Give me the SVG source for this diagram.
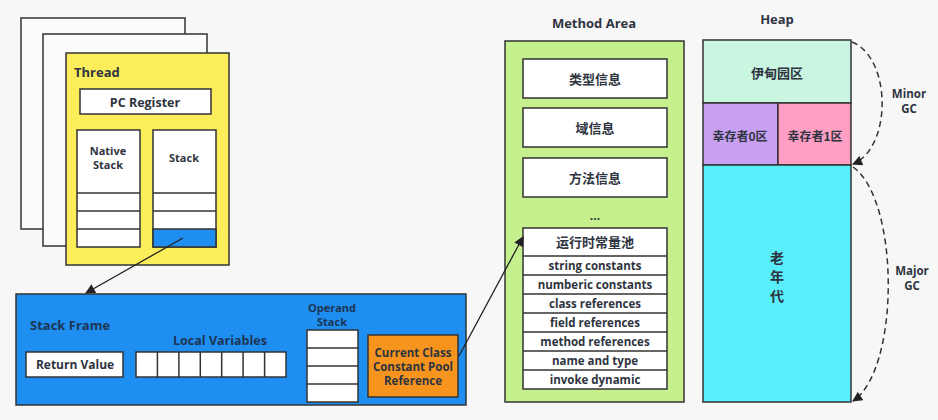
<svg xmlns="http://www.w3.org/2000/svg" width="938" height="420" viewBox="0 0 938 420">
<defs>
<style>
.t{font-family:"Open Sans","Noto Sans","Noto Sans CJK SC",sans-serif;font-weight:bold;fill:#2e3440;text-anchor:middle}
.c{font-family:"Noto Sans CJK SC","Noto Sans",sans-serif;font-weight:bold;fill:#2e3440;text-anchor:middle}
.b{stroke:#333;stroke-width:1.5}
.w{fill:#fff;stroke:#333;stroke-width:1.5}
.ln{stroke:#222;stroke-width:1.3;fill:none}
.d{stroke:#333;stroke-width:1.5;fill:none;stroke-dasharray:6,4}
</style>
<marker id="ah" viewBox="0 0 10 10" refX="9" refY="5" markerWidth="11" markerHeight="10" orient="auto" markerUnits="userSpaceOnUse"><path d="M0,0 L10,5 L0,10 z" fill="#222"/></marker>
</defs>
<rect width="938" height="420" fill="#f7f7f7"/>

<g id="thread">
<rect x="21" y="18" width="164" height="211" class="b" fill="#fbfbfb"/>
<rect x="43" y="34" width="164" height="212" class="b" fill="#fbfbfb"/>
<rect x="66" y="53" width="163" height="212" class="b" fill="#fbee5a"/>
<text x="74" y="77" class="t" style="text-anchor:start" font-size="13">Thread</text>
<g id="pc"><rect x="80" y="89" width="131" height="25" class="w"/><text x="145" y="107" class="t" font-size="12.5">PC Register</text></g>
<g id="native">
<rect x="77" y="130" width="63" height="117" class="w"/>
<line x1="77" y1="193" x2="140" y2="193" class="b"/><line x1="77" y1="211" x2="140" y2="211" class="b"/><line x1="77" y1="229" x2="140" y2="229" class="b"/>
<text x="108" y="155" class="t" font-size="11">Native</text><text x="108" y="169" class="t" font-size="11">Stack</text>
</g>
<g id="stack">
<rect x="153" y="130" width="63" height="117" class="w"/>
<rect x="153" y="229" width="63" height="18" fill="#1f8ef1" class="b"/>
<line x1="153" y1="193" x2="216" y2="193" class="b"/><line x1="153" y1="211" x2="216" y2="211" class="b"/>
<text x="184" y="162" class="t" font-size="11">Stack</text>
</g>
</g>

<g id="stackframe">
<rect x="16" y="294" width="450" height="111" class="b" fill="#1f8ef1"/>
<text x="30" y="330" class="t" style="text-anchor:start;fill:#1c3553" font-size="13">Stack Frame</text>
<g id="retval"><rect x="26" y="352" width="97" height="25" class="w"/><text x="75" y="369" class="t" font-size="12">Return Value</text></g>
<g id="localvars">
<text x="220" y="345" class="t" style="fill:#1c3553" font-size="12.5">Local Variables</text>
<rect x="136" y="352" width="150" height="25" class="w"/>
<path d="M157.4,352v25M178.9,352v25M200.3,352v25M221.7,352v25M243.1,352v25M264.6,352v25" class="b"/>
</g>
<g id="operand">
<text x="332" y="312" class="t" style="fill:#1c3553" font-size="11">Operand</text>
<text x="332" y="326" class="t" style="fill:#1c3553" font-size="11">Stack</text>
<rect x="307" y="330" width="51" height="72" class="w"/>
<path d="M307,348h51M307,366h51M307,384h51" class="b"/>
</g>
<g id="ccpr">
<rect x="368" y="335" width="90" height="62" class="b" fill="#f7941d"/>
<text x="413" y="357" class="t" font-size="11.5">Current Class</text>
<text x="413" y="371" class="t" font-size="11.5">Constant Pool</text>
<text x="413" y="385" class="t" font-size="11.5">Reference</text>
</g>
</g>

<g id="methodarea">
<text x="594" y="28" class="t" font-size="13">Method Area</text>
<rect x="505" y="41" width="179" height="361" class="b" fill="#c6ef8e"/>
<g id="type"><rect x="523" y="59" width="144" height="39" class="w"/><text x="595" y="84" class="c" font-size="13">类型信息</text></g>
<g id="field"><rect x="523" y="108" width="144" height="39" class="w"/><text x="595" y="133" class="c" font-size="13">域信息</text></g>
<g id="method"><rect x="523" y="158" width="144" height="39" class="w"/><text x="595" y="183" class="c" font-size="13">方法信息</text></g>
<text x="595" y="220" class="t" font-size="12">...</text>
<g id="rcp">
<rect x="523" y="228" width="144" height="161" class="w"/>
<path d="M523,256h144M523,275h144M523,294h144M523,313h144M523,332h144M523,351h144M523,370h144" class="b"/>
<text x="595" y="247" class="c" font-size="13">运行时常量池</text>
<text x="595" y="270" class="t" font-size="11.5">string constants</text>
<text x="595" y="289" class="t" font-size="11.5">numberic constants</text>
<text x="595" y="308" class="t" font-size="11.5">class references</text>
<text x="595" y="327" class="t" font-size="11.5">field references</text>
<text x="595" y="346" class="t" font-size="11.5">method references</text>
<text x="595" y="365" class="t" font-size="11.5">name and type</text>
<text x="595" y="384" class="t" font-size="11.5">invoke dynamic</text>
</g>
</g>

<g id="heap">
<text x="777" y="24" class="t" font-size="13">Heap</text>
<g id="eden"><rect x="703" y="40" width="148" height="63" class="b" fill="#c9f5e1"/><text x="777" y="78" class="c" font-size="13">伊甸园区</text></g>
<g id="s0"><rect x="703" y="103" width="75" height="62" class="b" fill="#c7a0f2"/><text x="740" y="141" class="c" font-size="12">幸存者0区</text></g>
<g id="s1"><rect x="778" y="103" width="73" height="62" class="b" fill="#ff9fc4"/><text x="815" y="141" class="c" font-size="12">幸存者1区</text></g>
<g id="old"><rect x="703" y="165" width="148" height="237" class="b" fill="#58effb"/>
<text x="777" y="263" class="c" font-size="14">老</text><text x="777" y="282" class="c" font-size="14">年</text><text x="777" y="301" class="c" font-size="14">代</text></g>
</g>

<g id="connectors">
<line x1="183" y1="238" x2="86" y2="293" class="ln" marker-end="url(#ah)"/>
<line x1="459" y1="356" x2="523" y2="237" class="ln" marker-end="url(#ah)"/>
<path d="M852,42 C892,58 892,148 853,164" class="d" marker-end="url(#ah)"/>
<path d="M853,167 C900,200 900,370 853,401" class="d" marker-end="url(#ah)"/>
<text x="909" y="98" class="t" font-size="11.5">Minor</text>
<text x="909" y="113" class="t" font-size="11.5">GC</text>
<text x="912" y="275" class="t" font-size="11.5">Major</text>
<text x="912" y="290" class="t" font-size="11.5">GC</text>
</g>
</svg>
